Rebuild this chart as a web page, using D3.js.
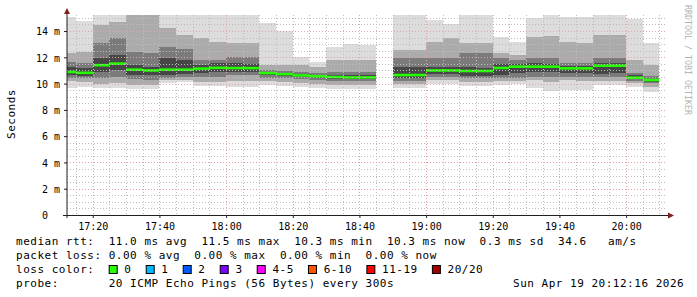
<!DOCTYPE html>
<html>
<head>
<meta charset="utf-8">
<script src="https://cdn.jsdelivr.net/npm/d3@7"></script>
<style>
body { margin: 0; background: #fff; }
text { font-family: "DejaVu Sans Mono", monospace; fill: #000; }
</style>
</head>
<body>
<script>
// 5 minute slots (start time), 18:45 has no data
var slots = ["17:10","17:15","17:20","17:25","17:30","17:35","17:40","17:45","17:50","17:55",
             "18:00","18:05","18:10","18:15","18:20","18:25","18:30","18:35","18:40",
             "18:50","18:55","19:00","19:05","19:10","19:15","19:20","19:25","19:30","19:35",
             "19:40","19:45","19:50","19:55","20:00","20:05"];

// rtt in ms, sorted ping levels (outer -> inner)
var smokeTop = [15.07,14.80,15.6,15.6,15.8,15.8,15.6,15.6,15.6,15.6,15.6,15.6,14.59,14.03,12.00,11.62,12.79,12.99,12.94,
                15.6,15.6,14.84,14.54,15.6,15.6,13.55,13.17,14.99,15.6,15.1,15.1,15.6,15.6,14.92,13.07];
var smokeUp1 = [12.30,12.40,14.46,14.71,15.5,15.5,14.20,13.70,13.45,13.19,13.07,13.07,11.42,11.42,11.42,11.24,11.80,11.80,11.80,
                12.56,12.56,13.19,13.45,13.07,13.07,12.30,12.18,13.57,13.62,13.19,13.07,13.70,13.70,11.80,11.42];
var smokeUp2 = [11.67,11.60,13.07,13.45,12.43,12.30,12.81,12.61,11.80,11.80,12.05,12.05,11.04,10.98,10.91,10.83,10.91,10.91,10.91,
                11.92,11.92,11.92,11.92,12.30,12.30,11.92,11.80,11.92,11.92,11.54,11.54,11.92,11.92,10.83,10.58];
var smokeUp3 = [11.29,11.15,11.92,12.18,11.42,11.29,11.92,11.80,11.42,11.54,11.54,11.50,10.88,10.83,10.73,10.68,10.65,10.63,10.63,
                11.24,11.24,11.24,11.24,11.29,11.20,11.49,11.49,11.54,11.50,11.34,11.34,11.59,11.59,10.63,10.37];
var median   = [10.88,10.82,11.40,11.52,11.06,11.00,11.06,11.06,11.14,11.20,11.18,11.18,10.80,10.72,10.62,10.56,10.50,10.47,10.47,
                10.65,10.65,11.00,11.00,10.96,10.96,11.19,11.29,11.29,11.29,11.16,11.16,11.36,11.36,10.45,10.27];
var smokeLo3 = [10.65,10.60,10.91,11.04,10.65,10.65,10.65,10.70,10.83,10.91,10.91,10.90,10.63,10.57,10.48,10.45,10.35,10.33,10.33,
                10.40,10.40,10.73,10.73,10.58,10.60,10.65,10.78,10.91,10.90,10.78,10.78,10.73,10.78,10.33,10.14];
var smokeLo2 = [10.45,10.40,10.40,10.53,10.33,10.30,10.45,10.50,10.53,10.53,10.65,10.65,10.45,10.40,10.33,10.30,10.22,10.17,10.17,
                10.20,10.20,10.53,10.50,10.40,10.40,10.40,10.40,10.53,10.50,10.53,10.50,10.48,10.48,10.17,10.02];
var smokeLo1 = [10.22,10.15,9.97,10.02,9.89,9.90,10.27,10.30,10.14,10.14,10.20,10.20,10.20,10.14,10.02,10.00,9.89,9.89,9.89,
                9.97,9.97,10.27,10.25,10.14,10.10,10.20,10.20,10.27,10.10,10.27,10.20,10.20,10.20,10.02,9.72];
var smokeBot = [9.66,9.72,9.66,9.66,9.56,9.60,10.07,10.10,9.82,9.82,9.77,9.77,9.87,9.82,9.72,9.68,9.56,9.56,9.56,
                9.64,9.64,9.97,9.97,9.82,9.80,9.89,9.97,9.64,9.45,9.51,9.51,9.89,9.89,9.77,9.38];

var yTicks = [0, 2, 4, 6, 8, 10, 12, 14];
var lossLabels = ["0", "1", "2", "3", "4-5", "6-10", "11-19", "20/20"];
var lossColors = ["#26ff00", "#00b8ff", "#0059ff", "#7e00ff", "#ff00ff", "#ff5500", "#ff0000", "#a10000"];
var legendLines = [
  "median rtt:  11.0 ms avg  11.5 ms max  10.3 ms min  10.3 ms now  0.3 ms sd  34.6   am/s",
  "packet loss: 0.00 % avg  0.00 % max  0.00 % min  0.00 % now",
  "loss color:",
  "probe:       20 ICMP Echo Pings (56 Bytes) every 300s"
];
var stamp = "Sun Apr 19 20:12:16 2026";

var W = 697, H = 297;
var L = 67, R = 667, T = 15, B = 215;

var parse = d3.timeParse("%Y-%m-%d %H:%M:%S");
var t0 = parse("2026-04-19 17:12:16"), t1 = parse("2026-04-19 20:12:16");
var slotStart = slots.map(function(s) { return parse("2026-04-19 " + s + ":00"); });

var x = d3.scaleTime().domain([t0, t1]).range([L, R]);
var y = d3.scaleLinear().domain([0, 15.22]).range([B, T]);

var svg = d3.select("body").append("svg")
    .attr("width", W)
    .attr("height", H);

svg.append("rect").attr("width", W).attr("height", H).attr("fill", "#fff");

svg.append("clipPath").attr("id", "plot")
  .append("rect").attr("x", L).attr("y", T).attr("width", R - L).attr("height", B - T);

var plot = svg.append("g").attr("clip-path", "url(#plot)");

// smoke bands, outer ones first
var bands = [
  [smokeBot, smokeTop, "#dcdcdc"],
  [smokeLo1, smokeUp1, "#ababab"],
  [smokeLo2, smokeUp2, "#7b7b7b"],
  [smokeLo3, smokeUp3, "#474747"]
];
bands.forEach(function(b) {
  plot.append("g").selectAll("rect")
      .data(slotStart)
    .enter().append("rect")
      .attr("x", function(d) { return Math.round(x(d)); })
      .attr("width", function(d) { return Math.round(x(d3.timeMinute.offset(d, 5))) - Math.round(x(d)); })
      .attr("y", function(d, i) { return Math.round(y(b[1][i])); })
      .attr("height", function(d, i) { return Math.round(y(b[0][i])) - Math.round(y(b[1][i])); })
      .attr("fill", b[2]);
});

// grid
var grid = svg.append("g");
var minorY = d3.range(0.5, 15.01, 0.5).filter(function(v) { return v % 2 != 0; });
grid.selectAll(".hmin").data(minorY).enter().append("line")
    .attr("x1", L).attr("x2", R)
    .attr("y1", function(d) { return Math.round(y(d)) + 0.5; })
    .attr("y2", function(d) { return Math.round(y(d)) + 0.5; })
    .attr("stroke", "#bdbdbd").attr("stroke-dasharray", "1,2");
var minorX = d3.timeMinute.every(5).range(t0, t1).filter(function(d) { return d.getMinutes() % 20 != 0; });
grid.selectAll(".vmin").data(minorX).enter().append("line")
    .attr("x1", function(d) { return Math.round(x(d)) + 0.5; })
    .attr("x2", function(d) { return Math.round(x(d)) + 0.5; })
    .attr("y1", T).attr("y2", B)
    .attr("stroke", "#bdbdbd").attr("stroke-dasharray", "1,2");
grid.selectAll(".hmaj").data(yTicks.slice(1)).enter().append("line")
    .attr("x1", L).attr("x2", R)
    .attr("y1", function(d) { return Math.round(y(d)) + 0.5; })
    .attr("y2", function(d) { return Math.round(y(d)) + 0.5; })
    .attr("stroke", "#e6a3a3").attr("stroke-dasharray", "1,2");
var majorX = d3.timeMinute.every(20).range(t0, t1);
grid.selectAll(".vmaj").data(majorX).enter().append("line")
    .attr("x1", function(d) { return Math.round(x(d)) + 0.5; })
    .attr("x2", function(d) { return Math.round(x(d)) + 0.5; })
    .attr("y1", T).attr("y2", B)
    .attr("stroke", "#e6a3a3").attr("stroke-dasharray", "1,2");

// median line
plot.append("g").selectAll("line")
    .data(slotStart)
  .enter().append("line")
    .attr("x1", function(d) { return Math.round(x(d)); })
    .attr("x2", function(d) { return Math.round(x(d3.timeMinute.offset(d, 5))); })
    .attr("y1", function(d, i) { return y(median[i]); })
    .attr("y2", function(d, i) { return y(median[i]); })
    .attr("stroke", lossColors[0])
    .attr("stroke-width", 2.6);

// axes
var yAxis = d3.axisLeft(y).tickValues(yTicks).tickSize(3).tickPadding(16)
    .tickFormat(d3.format("d"));
var gy = svg.append("g").attr("transform", "translate(" + L + ",0)").call(yAxis);
gy.select(".domain").remove();
gy.selectAll("line").attr("stroke", "#1f1f1f");
gy.selectAll("text").attr("font-size", 10).attr("font-family", "DejaVu Sans Mono").attr("dy", "0.38em");
gy.selectAll(".tick").filter(function(d) { return d != 0; })
  .append("text")
    .attr("x", -13).attr("dy", "0.38em")
    .attr("text-anchor", "start")
    .attr("font-size", 10)
    .attr("fill", "#000")
    .text("m");

var xAxis = d3.axisBottom(x).tickValues(majorX).tickSize(3).tickPadding(4)
    .tickFormat(d3.timeFormat("%H:%M"));
var gx = svg.append("g").attr("transform", "translate(0," + B + ")").call(xAxis);
gx.select(".domain").remove();
gx.selectAll("line").attr("stroke", "#1f1f1f");
gx.selectAll("text").attr("font-size", 10).attr("font-family", "DejaVu Sans Mono").attr("dy", "0.75em");

svg.append("line").attr("x1", L).attr("x2", L).attr("y1", 218).attr("y2", 12)
    .attr("stroke", "#1f1f1f");
svg.append("line").attr("x1", 63).attr("x2", 669).attr("y1", B + 0.5).attr("y2", B + 0.5)
    .attr("stroke", "#1f1f1f");
svg.append("path").attr("d", "M67,8L70,14L64,14Z").attr("fill", "#7f1f1f");
svg.append("path").attr("d", "M674,215.5L668,212.5L668,218.5Z").attr("fill", "#7f1f1f");

// titles
svg.append("text")
    .attr("transform", "translate(15,114) rotate(-90)")
    .attr("text-anchor", "middle")
    .attr("font-size", 11).attr("letter-spacing", 0.5)
    .text("Seconds");
svg.append("text")
    .attr("transform", "translate(685,5) rotate(90)")
    .attr("font-size", 8.3)
    .style("fill", "#b4b4b4")
    .text("RRDTOOL / TOBI OETIKER");

// legend
var cw = 7.13, lx = 16;
var baselines = [245, 259, 273, 286.5];
svg.selectAll(".leg").data(legendLines).enter().append("text")
    .attr("x", lx)
    .attr("y", function(d, i) { return baselines[i]; })
    .attr("font-size", 11).attr("letter-spacing", 0.51)
    .style("white-space", "pre")
    .text(function(d) { return d; });
svg.append("text")
    .attr("x", 513).attr("y", baselines[3])
    .attr("font-size", 11).attr("letter-spacing", 0.51)
    .style("white-space", "pre")
    .text(stamp);

var boxX = [];
lossLabels.reduce(function(pos, lab) { boxX.push(pos); return pos + (lab.length + 4.19) * cw; }, lx + 13 * cw);
var lg = svg.selectAll(".lc").data(lossLabels).enter().append("g")
    .attr("transform", function(d, i) { return "translate(" + boxX[i] + "," + 265 + ")"; });
lg.append("rect")
    .attr("x", 0.5).attr("y", 0.5).attr("width", 8).attr("height", 8)
    .attr("fill", function(d, i) { return lossColors[i]; })
    .attr("stroke", "#000");
lg.append("text")
    .attr("x", 2.2 * cw).attr("y", 8)
    .attr("font-size", 11).attr("letter-spacing", 0.51)
    .text(function(d) { return d; });
</script>
</body>
</html>
